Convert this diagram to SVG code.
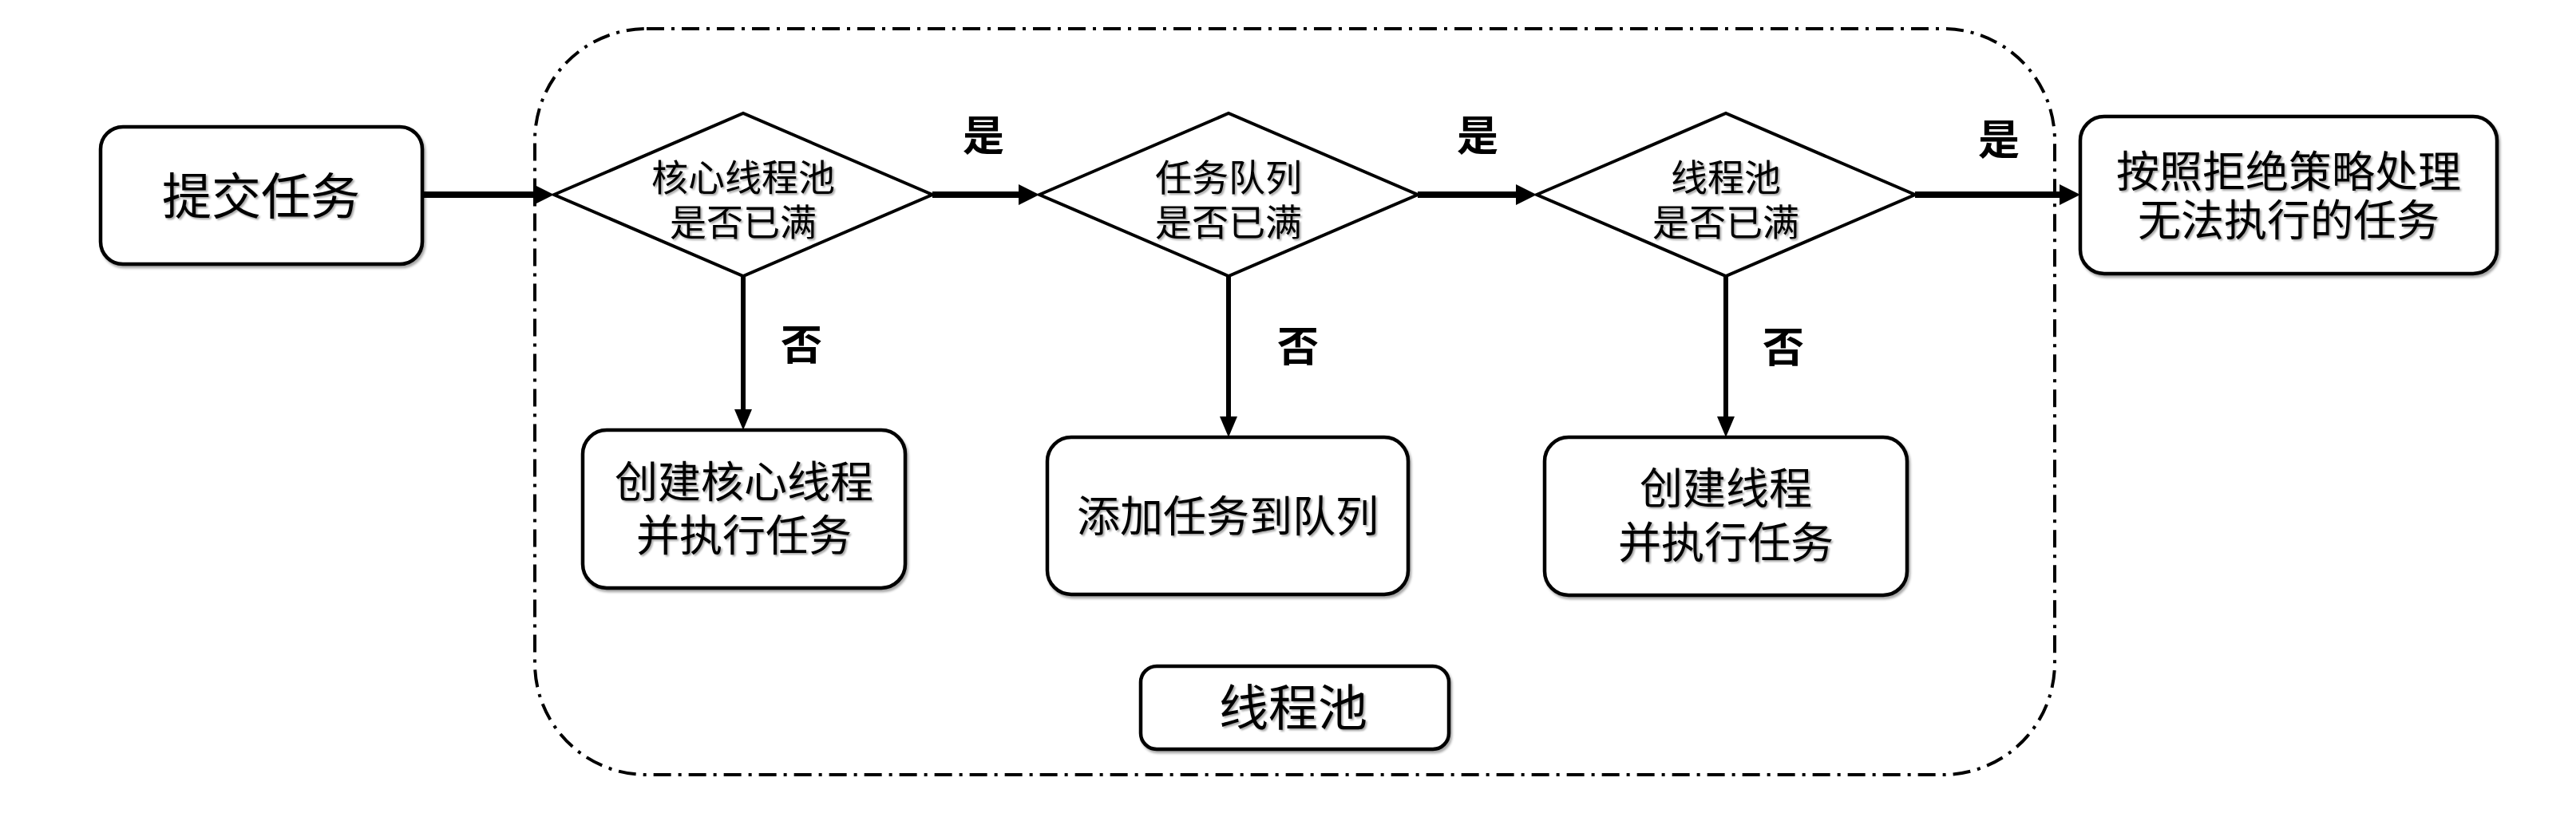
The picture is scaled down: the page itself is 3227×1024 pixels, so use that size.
<svg xmlns="http://www.w3.org/2000/svg" width="3227" height="1024" viewBox="0 0 3227 1024">
<style>
.box{fill:#fff;stroke:#000;stroke-width:4.5;filter:url(#sh)}
.dia{fill:#fff;stroke:#000;stroke-width:4}
.t{font-family:"Noto Sans CJK SC","Noto Sans",sans-serif;fill:#000;text-anchor:middle;filter:url(#tsh)}
.lb{font-family:"Noto Sans CJK SC","Noto Sans",sans-serif;font-weight:bold;font-size:52px;fill:#000;text-anchor:middle}
.h{stroke:#000;stroke-width:8;fill:none}
.v{stroke:#000;stroke-width:6;fill:none}
.pool{fill:none;stroke:#000;stroke-width:4;stroke-dasharray:22 9 4 9}
</style>
<defs>
<filter id="sh" x="-10%" y="-10%" width="130%" height="130%"><feDropShadow dx="2" dy="3" stdDeviation="1.5" flood-color="#000" flood-opacity="0.35"/></filter>
<filter id="tsh" x="-10%" y="-10%" width="130%" height="130%"><feDropShadow dx="2" dy="2" stdDeviation="1.2" flood-color="#000" flood-opacity="0.35"/></filter>
<marker id="ah" markerUnits="userSpaceOnUse" markerWidth="28" markerHeight="28" refX="0" refY="13" orient="auto"><path d="M0,0 L26,13 L0,26 z" fill="#000"/></marker>
<marker id="av" markerUnits="userSpaceOnUse" markerWidth="28" markerHeight="24" refX="0" refY="11" orient="auto"><path d="M0,0 L26,11 L0,22 z" fill="#000"/></marker>
</defs>
<rect width="3227" height="1024" fill="#fff"/>
<g id="pool-container">
<rect class="pool" x="670" y="36" width="1904" height="935" rx="140" ry="140"/>
</g>
<g id="pool-label">
<rect class="box" x="1429" y="835" width="386" height="104" rx="20"/>
<text class="t" x="1620" y="910" font-size="62">线程池</text>
</g>
<g id="submit">
<rect class="box" x="126" y="159" width="403" height="172" rx="28"/>
<text class="t" x="327" y="269" font-size="62">提交任务</text>
</g>
<g id="d-core">
<polygon class="dia" points="694,244 931,142 1168,244 931,346"/>
<text class="t" font-size="46"><tspan x="931" y="239">核心线程池</tspan><tspan x="931" y="295">是否已满</tspan></text>
</g>
<g id="d-queue">
<polygon class="dia" points="1302,244 1539,142 1776,244 1539,346"/>
<text class="t" font-size="46"><tspan x="1539" y="239">任务队列</tspan><tspan x="1539" y="295">是否已满</tspan></text>
</g>
<g id="d-pool">
<polygon class="dia" points="1925,244 2162,142 2399,244 2162,346"/>
<text class="t" font-size="46"><tspan x="2162" y="239">线程池</tspan><tspan x="2162" y="295">是否已满</tspan></text>
</g>
<g id="create-core">
<rect class="box" x="730" y="539" width="404" height="198" rx="30"/>
<text class="t" font-size="54"><tspan x="932" y="624">创建核心线程</tspan><tspan x="932" y="691">并执行任务</tspan></text>
</g>
<g id="add-queue">
<rect class="box" x="1312" y="548" width="452" height="197" rx="30"/>
<text class="t" x="1538" y="667" font-size="54">添加任务到队列</text>
</g>
<g id="create-thread">
<rect class="box" x="1935" y="548" width="454" height="198" rx="30"/>
<text class="t" font-size="54"><tspan x="2162" y="632">创建线程</tspan><tspan x="2162" y="700">并执行任务</tspan></text>
</g>
<g id="reject">
<rect class="box" x="2606" y="146" width="522" height="197" rx="30"/>
<text class="t" font-size="54"><tspan x="2867" y="235">按照拒绝策略处理</tspan><tspan x="2867" y="296">无法执行的任务</tspan></text>
</g>
<g id="connectors">
<line class="h" x1="529" y1="244" x2="668" y2="244" marker-end="url(#ah)"/>
<line class="h" x1="1168" y1="244" x2="1276" y2="244" marker-end="url(#ah)"/>
<line class="h" x1="1776" y1="244" x2="1899" y2="244" marker-end="url(#ah)"/>
<line class="h" x1="2399" y1="244" x2="2580" y2="244" marker-end="url(#ah)"/>
<line class="v" x1="931" y1="346" x2="931" y2="513" marker-end="url(#av)"/>
<line class="v" x1="1539" y1="346" x2="1539" y2="522" marker-end="url(#av)"/>
<line class="v" x1="2162" y1="346" x2="2162" y2="522" marker-end="url(#av)"/>
<text class="lb" x="1232" y="189">是</text>
<text class="lb" x="1851" y="189">是</text>
<text class="lb" x="2504" y="194">是</text>
<text class="lb" x="1004" y="451">否</text>
<text class="lb" x="1626" y="453">否</text>
<text class="lb" x="2234" y="454">否</text>
</g>
</svg>
